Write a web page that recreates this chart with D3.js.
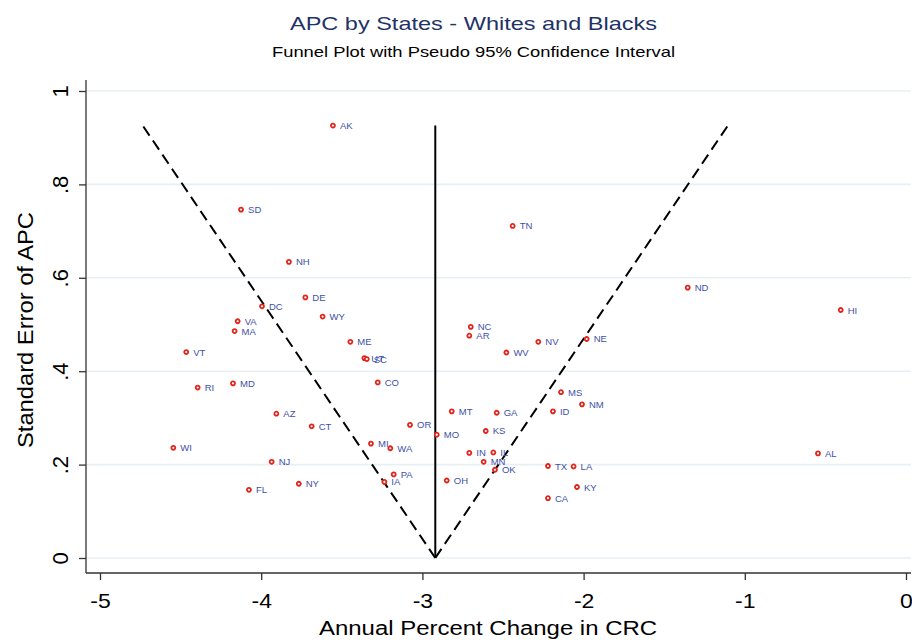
<!DOCTYPE html>
<html>
<head>
<meta charset="utf-8">
<script src="https://cdn.jsdelivr.net/npm/d3@7"></script>
<style>
  body { margin: 0; background: #fff; }
  svg { font-family: "Liberation Sans", Arial, sans-serif; }
</style>
</head>
<body>
<svg id="chart" width="912" height="641"></svg>
<script>
var states = ['AK', 'SD', 'NH', 'DE', 'DC', 'WY', 'VA', 'MA', 'ME', 'VT', 'UT', 'SC', 'RI', 'MD', 'CO',
  'AZ', 'CT', 'OR', 'WI', 'MI', 'WA', 'NJ', 'PA', 'IA', 'FL', 'NY', 'MO', 'TN', 'ND', 'HI', 'NC', 'AR',
  'NV', 'NE', 'WV', 'MS', 'NM', 'ID', 'MT', 'GA', 'KS', 'IN', 'IL', 'MN', 'OK', 'OH', 'TX', 'LA', 'KY',
  'CA', 'AL'];
var apc = [-3.555, -4.125, -3.828, -3.726, -3.995, -3.619, -4.146, -4.165, -3.447, -4.465, -3.36, -3.345,
  -4.394, -4.175, -3.277, -3.906, -3.687, -3.077, -4.545, -3.319, -3.199, -3.935, -3.178, -3.236, -4.076,
  -3.767, -2.911, -2.440, -1.354, -0.405, -2.700, -2.709, -2.281, -1.981, -2.479, -2.140, -2.010, -2.190,
  -2.818, -2.539, -2.607, -2.709, -2.560, -2.620, -2.550, -2.849, -2.221, -2.062, -2.041, -2.221, -0.546];
var se = [0.926, 0.746, 0.634, 0.558, 0.539, 0.517, 0.507, 0.486, 0.463, 0.441, 0.428, 0.426,
  0.365, 0.374, 0.376, 0.309, 0.282, 0.285, 0.236, 0.245, 0.235, 0.206, 0.179, 0.163, 0.146,
  0.159, 0.264, 0.711, 0.579, 0.531, 0.495, 0.476, 0.463, 0.469, 0.440, 0.355, 0.329, 0.314,
  0.314, 0.311, 0.272, 0.225, 0.226, 0.206, 0.189, 0.166, 0.197, 0.196, 0.152, 0.128, 0.224];
var xTicks = [-5, -4, -3, -2, -1, 0];
var yTicks = [0, 0.2, 0.4, 0.6, 0.8, 1];
var yTickLabels = ['0', '.2', '.4', '.6', '.8', '1'];
var pooled = -2.92;
var z = 1.96;

var svg = d3.select('#chart');
var x = d3.scaleLinear().domain([-5, 0]).range([100, 906]);
var y = d3.scaleLinear().domain([0, 1]).range([558, 91]);
var axisLeft = 86, axisBottom = 573, plotRight = 911;

// titles (stata text renders wider than liberation, so stretch to measured length)
svg.append('text')
  .attr('x', 290).attr('y', 30)
  .attr('font-size', 19)
  .attr('fill', '#1f3366')
  .attr('textLength', 367).attr('lengthAdjust', 'spacingAndGlyphs')
  .text('APC by States - Whites and Blacks');
svg.append('text')
  .attr('x', 272).attr('y', 57)
  .attr('font-size', 15)
  .attr('fill', '#000')
  .attr('textLength', 403).attr('lengthAdjust', 'spacingAndGlyphs')
  .text('Funnel Plot with Pseudo 95% Confidence Interval');

// gridlines
svg.append('g').selectAll('line')
  .data(yTicks)
  .enter().append('line')
  .attr('x1', axisLeft).attr('x2', plotRight)
  .attr('y1', function (d) { return y(d); })
  .attr('y2', function (d) { return y(d); })
  .attr('stroke', '#e9f0f3')
  .attr('stroke-width', 1.6);

// y axis
var gy = svg.append('g')
  .attr('transform', 'translate(' + axisLeft + ',0)')
  .call(d3.axisLeft(y).tickValues(yTicks).tickSize(7).tickPadding(0)
    .tickFormat(function (d, i) { return yTickLabels[i]; }));
gy.select('.domain').attr('d', 'M0,80V' + axisBottom).attr('stroke', '#333').attr('stroke-width', 1.3);
gy.selectAll('.tick line').attr('stroke', '#333').attr('stroke-width', 1.3);
gy.selectAll('.tick text')
  .attr('font-size', 20)
  .attr('fill', '#000')
  .attr('text-anchor', 'middle')
  .attr('x', 0).attr('dy', 0)
  .attr('transform', 'translate(-18,0) rotate(-90) scale(1.1,1.12)');

// x axis
var gx = svg.append('g')
  .attr('transform', 'translate(0,' + axisBottom + ')')
  .call(d3.axisBottom(x).tickValues(xTicks).tickSize(7).tickPadding(0)
    .tickFormat(function (d) { return d < 0 ? '-' + Math.abs(d) : d; }));
gx.select('.domain').attr('d', 'M' + axisLeft + ',0H' + plotRight).attr('stroke', '#333').attr('stroke-width', 1.3);
gx.selectAll('.tick line').attr('stroke', '#333').attr('stroke-width', 1.3);
gx.selectAll('.tick text')
  .attr('font-size', 20)
  .attr('fill', '#000')
  .attr('y', 0).attr('dy', 0)
  .attr('transform', 'translate(0,35) scale(1.15,1)');

// axis titles
svg.append('text')
  .attr('x', 319).attr('y', 635)
  .attr('font-size', 20)
  .attr('fill', '#000')
  .attr('textLength', 338).attr('lengthAdjust', 'spacingAndGlyphs')
  .text('Annual Percent Change in CRC');
svg.append('text')
  .attr('transform', 'translate(33,448) rotate(-90)')
  .attr('font-size', 22.5)
  .attr('fill', '#000')
  .attr('textLength', 236).attr('lengthAdjust', 'spacingAndGlyphs')
  .text('Standard Error of APC');

// funnel
var seMax = d3.max(se);
svg.append('line')
  .attr('x1', x(pooled)).attr('x2', x(pooled))
  .attr('y1', y(0)).attr('y2', y(seMax))
  .attr('stroke', '#000').attr('stroke-width', 2);
[-1, 1].forEach(function (s) {
  svg.append('line')
    .attr('x1', x(pooled)).attr('y1', y(0))
    .attr('x2', x(pooled + s * z * seMax)).attr('y2', y(seMax))
    .attr('stroke', '#000').attr('stroke-width', 2)
    .attr('stroke-dasharray', '11,6');
});

// points
var pts = svg.append('g').selectAll('g')
  .data(states)
  .enter().append('g')
  .attr('transform', function (d, i) { return 'translate(' + x(apc[i]) + ',' + y(se[i]) + ')'; });
pts.append('circle')
  .attr('r', 2)
  .attr('fill', '#fff')
  .attr('stroke', '#e2231a')
  .attr('stroke-width', 1.8);
pts.append('text')
  .attr('x', 7).attr('y', 3.5)
  .attr('font-size', 9.5)
  .attr('fill', '#3e4fa8')
  .text(function (d) { return d; });
</script>
</body>
</html>
